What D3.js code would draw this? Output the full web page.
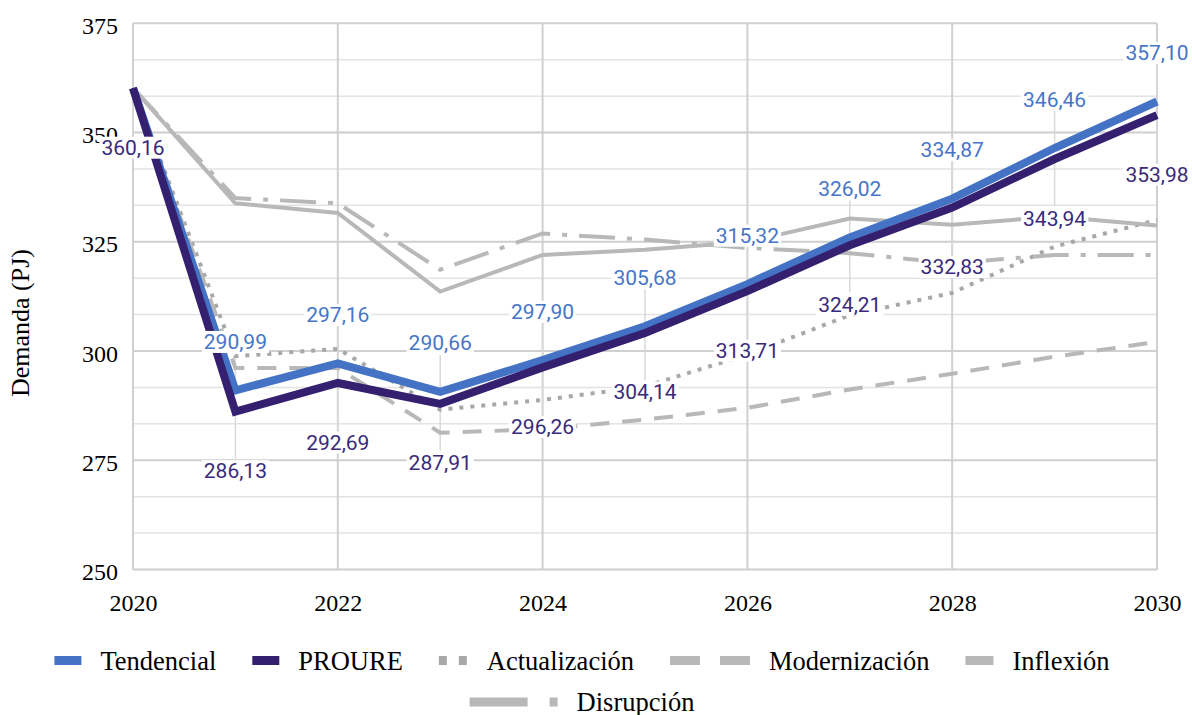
<!DOCTYPE html>
<html>
<head>
<meta charset="utf-8">
<script src="https://cdn.jsdelivr.net/npm/d3@7"></script>
<style>
  html, body { margin: 0; padding: 0; background: #fff; }
  svg { display: block; }
</style>
</head>
<body>
<svg id="chart" width="1192" height="715"></svg>
<script>
// values
const years = [2020, 2021, 2022, 2023, 2024, 2025, 2026, 2027, 2028, 2029, 2030];
const tendencial = [360.16, 290.99, 297.16, 290.66, 297.90, 305.68, 315.32, 326.02, 334.87, 346.46, 357.10];
const proure = [360.16, 286.13, 292.69, 287.91, 296.26, 304.14, 313.71, 324.21, 332.83, 343.94, 353.98];
const actualizacion = [360.16, 298.8, 300.5, 286.6, 288.8, 291.9, 299.2, 308.2, 313.3, 323.9, 330.0];
const modernizacion = [360.16, 296.1, 296.1, 281.3, 282.1, 284.3, 287.0, 291.2, 294.8, 298.7, 302.1];
const inflexion = [360.16, 333.8, 331.6, 313.6, 322.0, 323.2, 325.0, 330.3, 328.9, 330.8, 328.7];
const disrupcion = [360.16, 335.0, 333.8, 318.6, 326.9, 325.5, 323.6, 322.4, 320.1, 322.0, 322.0];

const yTicks = [250, 275, 300, 325, 350, 375];
const xTicks = [2020, 2022, 2024, 2026, 2028, 2030];

const series = [
  { name: "Tendencial", values: tendencial, color: "#4472c4", width: 8, dash: null, legendDash: null, legendLen: 27 },
  { name: "PROURE", values: proure, color: "#34206f", width: 8, dash: null, legendDash: null, legendLen: 27 },
  { name: "Actualización", values: actualizacion, color: "#a8a8a8", width: 4, dash: "4,7", legendDash: "8,12", legendLen: 29 },
  { name: "Modernización", values: modernizacion, color: "#b8b8b8", width: 4, dash: "19,13", legendDash: "30,20", legendLen: 80 },
  { name: "Inflexión", values: inflexion, color: "#b8b8b8", width: 4, dash: null, legendDash: null, legendLen: 28 },
  { name: "Disrupción", values: disrupcion, color: "#b8b8b8", width: 4, dash: "36,12,5,12", legendDash: "58,22,8,60", legendLen: 88 }
];

const serif = "'Liberation Serif', 'Times New Roman', serif";
const sans = "Roboto, 'Noto Sans', sans-serif";
const fmt = d3.formatLocale({ decimal: ",", thousands: ".", grouping: [3], currency: ["", ""] }).format(".2f");

const svg = d3.select("#chart");
const x = d3.scaleLinear().domain([2020, 2030]).range([133, 1157]);
const y = d3.scaleLinear().domain([250, 375]).range([569.5, 23.3]);

// grid
const grid = svg.append("g");
grid.selectAll("line.minor")
  .data(d3.range(250, 375.01, 25 / 3))
  .join("line")
  .attr("x1", x(2020)).attr("x2", x(2030))
  .attr("y1", d => y(d)).attr("y2", d => y(d))
  .attr("stroke", "#e3e3e3").attr("stroke-width", 1.5);
grid.selectAll("line.major")
  .data(yTicks)
  .join("line")
  .attr("x1", x(2020)).attr("x2", x(2030))
  .attr("y1", d => y(d)).attr("y2", d => y(d))
  .attr("stroke", "#d0d0d0").attr("stroke-width", 2);
grid.selectAll("line.vert")
  .data(xTicks)
  .join("line")
  .attr("x1", d => x(d)).attr("x2", d => x(d))
  .attr("y1", y(250)).attr("y2", y(375))
  .attr("stroke", "#d0d0d0").attr("stroke-width", 2);

// axes (labels only)
const yAxis = svg.append("g")
  .attr("transform", `translate(${x(2020)},0)`)
  .call(d3.axisLeft(y).tickValues(yTicks).tickSize(0).tickPadding(15));
const xAxis = svg.append("g")
  .attr("transform", `translate(0,${y(250)})`)
  .call(d3.axisBottom(x).tickValues(xTicks).tickFormat(d3.format("d")).tickSize(0).tickPadding(24));
[yAxis, xAxis].forEach(a => {
  a.select(".domain").remove();
  a.selectAll("text")
    .style("font-family", serif)
    .style("font-size", "24px")
    .attr("fill", "#000");
});
yAxis.selectAll("text").attr("dy", "0.42em");
xAxis.selectAll("text").attr("dy", "0.71em");

svg.append("text")
  .attr("transform", `translate(29,${323}) rotate(-90)`)
  .attr("text-anchor", "middle")
  .style("font-family", serif)
  .style("font-size", "26px")
  .text("Demanda (PJ)");

// label positions
const tLabels = years.slice(1).map((yr, i) => ({ year: yr, v: tendencial[i + 1], dy: -49, color: "#4775c8" }));
const pLabels = years.map((yr, i) => ({ year: yr, v: proure[i], dy: 59, color: "#3a2a7c" }));
const labels = tLabels.concat(pLabels);

// leader lines
svg.append("g").selectAll("line")
  .data(labels)
  .join("line")
  .attr("x1", d => x(d.year)).attr("x2", d => x(d.year))
  .attr("y1", d => y(d.v)).attr("y2", d => y(d.v) + d.dy + (d.dy < 0 ? 12 : -12))
  .attr("stroke", "#d9d9d9").attr("stroke-width", 1.5);

// series lines, grey ones first
const line = d3.line().x((d, i) => x(years[i])).y(d => y(d));
const order = [2, 3, 4, 5, 0, 1];
svg.append("g").selectAll("path")
  .data(order.map(i => series[i]))
  .join("path")
  .attr("d", d => line(d.values))
  .attr("fill", "none")
  .attr("stroke", d => d.color)
  .attr("stroke-width", d => d.width)
  .attr("stroke-dasharray", d => d.dash)
  .attr("stroke-linejoin", "miter");

// data labels with white boxes
const lab = svg.append("g").selectAll("g")
  .data(labels)
  .join("g")
  .attr("transform", d => `translate(${x(d.year)},${y(d.v) + d.dy})`);
lab.append("text")
  .attr("text-anchor", "middle")
  .attr("dy", "0.36em")
  .style("font-family", sans)
  .style("font-size", "21px")
  .attr("fill", d => d.color)
  .text(d => fmt(d.v));
lab.each(function () {
  const g = d3.select(this);
  const b = g.select("text").node().getBBox();
  g.insert("rect", "text")
    .attr("x", b.x - 2).attr("y", b.y + 1)
    .attr("width", b.width + 4).attr("height", b.height - 2)
    .attr("fill", "#fff");
});

// legend
const legend = svg.append("g");
const rows = [series.slice(0, 5), series.slice(5)];
const rowY = [660.5, 702];
rows.forEach((items, r) => {
  const g = legend.append("g");
  let cx = 0;
  items.forEach(s => {
    g.append("line")
      .attr("x1", cx).attr("x2", cx + s.legendLen)
      .attr("y1", rowY[r]).attr("y2", rowY[r])
      .attr("stroke", s.color)
      .attr("stroke-width", 9)
      .attr("stroke-dasharray", s.legendDash);
    const t = g.append("text")
      .attr("x", cx + s.legendLen + 19)
      .attr("y", rowY[r] + 9)
      .style("font-family", serif)
      .style("font-size", "26.5px")
      .attr("fill", "#000")
      .text(s.name);
    cx += s.legendLen + 19 + t.node().getComputedTextLength() + 36;
  });
  const total = cx - 36;
  g.attr("transform", `translate(${582 - total / 2},0)`);
});
</script>
</body>
</html>
